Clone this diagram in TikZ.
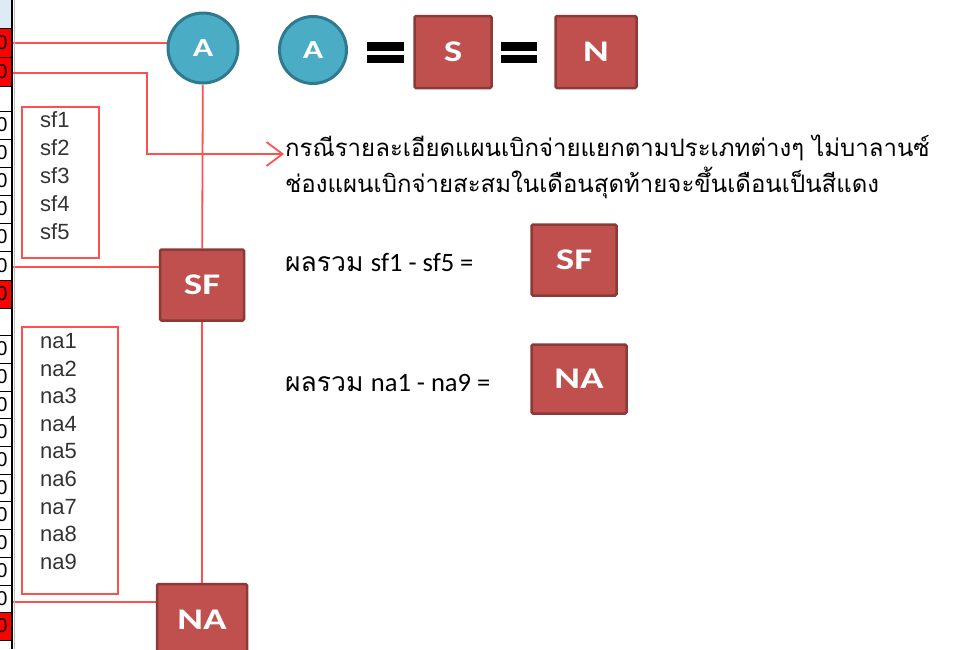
\documentclass[tikz,border=0pt]{standalone}
\usepackage{fontspec}
\setmainfont{Liberation Sans}
\newfontfamily\thaifont[Script=Thai]{Loma}
\newfontfamily\calfont{Carlito}
\newfontfamily\calwide[FakeStretch=1.3]{Carlito}
\usetikzlibrary{arrows.meta,backgrounds}
\definecolor{linered}{HTML}{FF5050}
\definecolor{boxred}{HTML}{C0504D}
\definecolor{boxedge}{HTML}{8C3A38}
\definecolor{circfill}{HTML}{4BACC6}
\definecolor{circedge}{HTML}{2E7A8F}
\definecolor{hdrblue}{HTML}{DDEBF7}
\definecolor{txtgray}{HTML}{333333}
\tikzset{
  redbox/.style={draw=boxedge, fill=boxred, line width=2.5pt, rounded corners=1.5pt, text=white,
    font=\calwide\bfseries\fontsize{30}{32}\selectfont, inner sep=0pt},
  circ/.style={circle, draw=circedge, fill=circfill, line width=3pt, text=white,
    font=\calwide\bfseries\fontsize{26}{28}\selectfont, minimum size=70pt, inner sep=0pt},
  conn/.style={draw=linered, line width=1.8pt},
  listbox/.style={draw=linered, line width=1.5pt, inner sep=0pt},
  listtxt/.style={anchor=west, inner sep=0pt, text=txtgray, font=\fontsize{22}{24}\selectfont},
  thaitxt/.style={anchor=west, inner sep=0pt, text=black, font=\thaifont\fontsize{24}{28}\selectfont},
  sumtxt/.style={anchor=west, inner sep=0pt, text=black, font=\fontsize{26.5}{28}\selectfont},
  zero/.style={inner sep=0pt, text=black, font=\fontsize{20}{22}\selectfont},
}
\begin{document}
\begin{tikzpicture}[x=1pt,y=-1pt]
\useasboundingbox (0,0) rectangle (961,649);
\clip (0,0) rectangle (961,649);
% spreadsheet strip
\fill[hdrblue] (0,0) rectangle (12,28);
\fill[red] (0,28) rectangle (12,86);
\fill[red] (0,280) rectangle (12,308);
\fill[red] (0,612) rectangle (12,640);
\begin{scope}
\clip (0,0) rectangle (11,649);
\foreach \y [count=\i] in {42.5,71.5,125,153,181,209,237,265.5,294,349,377,404.5,432,460,487.5,515,543,571,598.5,626}
  \node[zero] (z\i) at (2,\y) {0};
\end{scope}
\foreach \y in {28,57,86,111,139,167,195,223,251,280,308,335,363,391,418,446,474,501,529,557,585,612,640}
  \draw[black, line width=1pt] (0,\y) -- (12,\y);
\draw[black, line width=2.5pt] (12,0) -- (12,649);
\draw[black!25, line width=1.5pt] (14.5,0) -- (14.5,649);
% left column nodes
\node[circ] (A) at (203,48) {A};
\node[redbox, minimum width=84pt, minimum height=71pt] (SF) at (202,285) {SF};
\node[redbox, minimum width=90pt, minimum height=72pt] (NA) at (202,620) {NA};
% lists
\node[listbox, minimum width=77pt, minimum height=151pt] (sfbox) at (60.5,182.5) {};
\foreach \i in {1,...,5}
  \node[listtxt] (sf\i) at (40,{120+28*(\i-1)}) {sf\i};
\node[listbox, minimum width=96pt, minimum height=267pt] (nabox) at (70,460.5) {};
\foreach \i in {1,...,9}
  \node[listtxt] (na\i) at (40,{341+27.6*(\i-1)}) {na\i};
% connectors
\coordinate (cA) at (13,43);
\coordinate (cArr) at (13,73);
\coordinate (cSF) at (13,267);
\coordinate (cNA) at (13,602);
\coordinate (bend1) at (147,73);
\coordinate (bend2) at (147,154);
\coordinate (tip) at (284,154);
\begin{scope}[on background layer]
\draw[conn] (cA) -- (cA -| A.center);
\draw[conn] (cSF) -- (cSF -| SF.center);
\draw[conn] (cNA) -- (cNA -| NA.center);
\draw[conn] (A) -- (SF);
\draw[conn] (SF) -- (NA);
\end{scope}
\draw[conn, -{Straight Barb[length=16pt,width=24pt,line width=1.8pt]}] (cArr) -- (bend1) -- (bend2) -- (tip);
% top legend
\node[circ, minimum size=67pt] (A2) at (313,50) {A};
\node[redbox, minimum width=77pt, minimum height=72pt] (S) at (453,52) {S};
\node[redbox, minimum width=81pt, minimum height=72pt] (N) at (596,52) {N};
\fill[black] (367,42) rectangle (404,51);
\fill[black] (367,55) rectangle (404,63);
\fill[black] (501,42) rectangle (537,51);
\fill[black] (501,55) rectangle (537,63);
% thai notes
\node[thaitxt] (th1) at (285,148) {กรณีรายละเอียดแผนเบิกจ่ายแยกตามประเภทต่างๆ ไม่บาลานซ์};
\node[thaitxt] (th2) at (285,183) {ช่องแผนเบิกจ่ายสะสมในเดือนสุดท้ายจะขึ้นเดือนเป็นสีแดง};
\node[sumtxt] (sum1) at (285,263) {{\thaifont ผลรวม} {\calfont sf1 - sf5 =}};
\node[sumtxt] (sum2) at (285,383) {{\thaifont ผลรวม} {\calfont na1 - na9 =}};
\node[redbox, minimum width=85pt, minimum height=71pt] (SF2) at (574,260) {SF};
\node[redbox, minimum width=95pt, minimum height=69pt] (NA2) at (579,379) {NA};
\end{tikzpicture}
\end{document}
